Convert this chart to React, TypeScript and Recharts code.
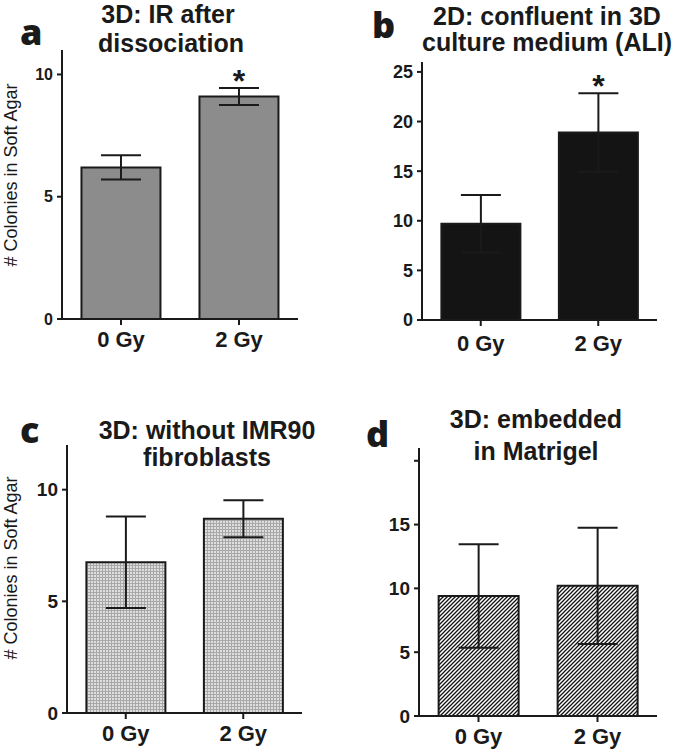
import React from "react";
import { BarChart, Bar, XAxis, YAxis, ErrorBar, LabelList } from "recharts";

const doses = ["0 Gy", "2 Gy"];

// panel a: 3D, IR after dissociation
const meanA = [6.2, 9.1];
const errA = [0.5, 0.35];
const sigA = ["", "*"];
const ticksA = [0, 5, 10];

// panel b: 2D confluent in 3D medium
const meanB = [9.7, 18.9];
const errB = [2.9, 3.95];
const sigB = ["", "*"];
const ticksB = [0, 5, 10, 15, 20, 25];

// panel c: 3D without IMR90
const meanC = [6.75, 8.7];
const errC = [2.05, 0.83];
const sigC = ["", ""];
const ticksC = [0, 5, 10];

// panel d: 3D embedded in Matrigel
const meanD = [9.4, 10.2];
const errD = [4.05, 4.55];
const sigD = ["", ""];
const ticksD = [0, 5, 10, 15, 20];
const tickLabelsD = ["0", "5", "10", "15", ""];

const FONT = "'Liberation Sans', Arial, sans-serif";
const INK = "#1a1a1a";

const rows = (mean: number[], err: number[], sig: string[]) =>
  doses.map((d, i) => ({ dose: d, mean: mean[i], err: err[i], sig: sig[i] }));

// asterisk sits just above the top of the error bar
const Star = (props: any) => {
  const vb = props.viewBox || props;
  const { x, y, width, height } = vb;
  const { value, index, means, errs } = props;
  if (!value) return null;
  const pxPerUnit = height / means[index];
  const top = y - errs[index] * pxPerUnit;
  return (
    <text x={x + width / 2} y={top + 4} textAnchor="middle" fontSize={32} fontWeight="bold" fontFamily={FONT} fill={INK}>
      {value}
    </text>
  );
};

type PanelProps = {
  left: number;
  top: number;
  width: number;
  height: number;
  margin: { top: number; right: number; bottom: number; left: number };
  mean: number[];
  err: number[];
  sig: string[];
  ticks: number[];
  tickLabels?: string[];
  max: number;
  fill: string;
  yFont: number;
  xMargin: number;
};

function Panel(p: PanelProps) {
  const data = rows(p.mean, p.err, p.sig);
  return (
    <div style={{ position: "absolute", left: p.left, top: p.top }}>
      <BarChart width={p.width} height={p.height} data={data} margin={p.margin} barCategoryGap="16.5%">
        <XAxis
          dataKey="dose"
          height={30}
          tickSize={6}
          tickMargin={p.xMargin}
          axisLine={{ stroke: INK, strokeWidth: 2 }}
          tickLine={{ stroke: INK, strokeWidth: 2 }}
          tick={{ fill: INK, fontSize: 22, fontWeight: "bold", fontFamily: FONT }}
        />
        <YAxis
          width={40}
          domain={[0, p.max]}
          ticks={p.ticks}
          tickFormatter={(v: number) => (p.tickLabels ? p.tickLabels[p.ticks.indexOf(v)] : String(v))}
          tickSize={5}
          tickMargin={4}
          axisLine={{ stroke: INK, strokeWidth: 2 }}
          tickLine={{ stroke: INK, strokeWidth: 2 }}
          tick={{ fill: INK, fontSize: p.yFont, fontWeight: "bold", fontFamily: FONT }}
        />
        <Bar dataKey="mean" fill={p.fill} stroke={INK} strokeWidth={2} isAnimationActive={false}>
          <ErrorBar dataKey="err" width={20} stroke={INK} strokeWidth={2} direction="y" />
          <LabelList dataKey="sig" content={(lp: any) => <Star {...lp} means={p.mean} errs={p.err} />} />
        </Bar>
      </BarChart>
    </div>
  );
}

export default function App() {
  const title = { fontFamily: FONT, fontWeight: "bold" as const, fontSize: 25, fill: INK, textAnchor: "middle" as const };
  const letter = { fontFamily: "'Open Sans', sans-serif", fontWeight: 800, fontSize: 36, fill: INK };
  const ylab = { fontFamily: FONT, fontSize: 18, fill: INK, textAnchor: "middle" as const };
  return (
    <div style={{ position: "absolute", left: 0, top: 0, width: 685, height: 752, background: "#fff" }}>
      <svg width={0} height={0} style={{ position: "absolute" }}>
        <defs>
          <pattern id="dots" width="3" height="3" patternUnits="userSpaceOnUse">
            <rect width="3" height="3" fill="#a8a8a8" />
            <rect x="1" y="1" width="2" height="2" fill="#dedede" />
          </pattern>
          <pattern id="hatch" width="4" height="4" patternUnits="userSpaceOnUse">
            <rect width="4" height="4" fill="#fff" />
            <path d="M-1,1 l2,-2 M0,4 l4,-4 M3,5 l2,-2" stroke="#111" strokeWidth="1.3" />
          </pattern>
        </defs>
      </svg>

      <Panel left={0} top={0} width={340} height={370} margin={{ top: 50, right: 42, bottom: 21, left: 22 }}
        mean={meanA} err={errA} sig={sigA} ticks={ticksA} max={11} fill="#8c8c8c" yFont={16} xMargin={6} />
      <Panel left={340} top={0} width={345} height={370} margin={{ top: 62, right: 28, bottom: 20, left: 42 }}
        mean={meanB} err={errB} sig={sigB} ticks={ticksB} max={26} fill="#141414" yFont={18} xMargin={9} />
      <Panel left={0} top={376} width={340} height={376} margin={{ top: 69, right: 38, bottom: 9, left: 27 }}
        mean={meanC} err={errC} sig={sigC} ticks={ticksC} max={12} fill="url(#dots)" yFont={19} xMargin={6} />
      <Panel left={340} top={376} width={345} height={376} margin={{ top: 72, right: 28, bottom: 6, left: 39 }}
        mean={meanD} err={errD} sig={sigD} ticks={ticksD} tickLabels={tickLabelsD} max={21} fill="url(#hatch)" yFont={19} xMargin={6} />

      <svg width={685} height={752} style={{ position: "absolute", left: 0, top: 0, pointerEvents: "none" }}>
        <text x={20} y={45} {...letter}>a</text>
        <text x={372} y={38} {...letter}>b</text>
        <text x={20} y={443} {...letter}>c</text>
        <text x={366} y={447} {...letter}>d</text>

        <text x={168} y={23} {...title}>3D: IR after</text>
        <text x={171} y={52} {...title}>dissociation</text>
        <text x={547} y={25} {...title}>2D: confluent in 3D</text>
        <text x={547} y={51} {...title}>culture medium (ALI)</text>
        <text x={207} y={439} {...title}>3D: without IMR90</text>
        <text x={207} y={466} {...title}>fibroblasts</text>
        <text x={536} y={428} {...title}>3D: embedded</text>
        <text x={536} y={460} {...title}>in Matrigel</text>

        <text x={11} y={175} transform="rotate(-90 11 175)" dominantBaseline="central" {...ylab}># Colonies in Soft Agar</text>
        <text x={11} y={568} transform="rotate(-90 11 568)" dominantBaseline="central" {...ylab}># Colonies in Soft Agar</text>
      </svg>
    </div>
  );
}
